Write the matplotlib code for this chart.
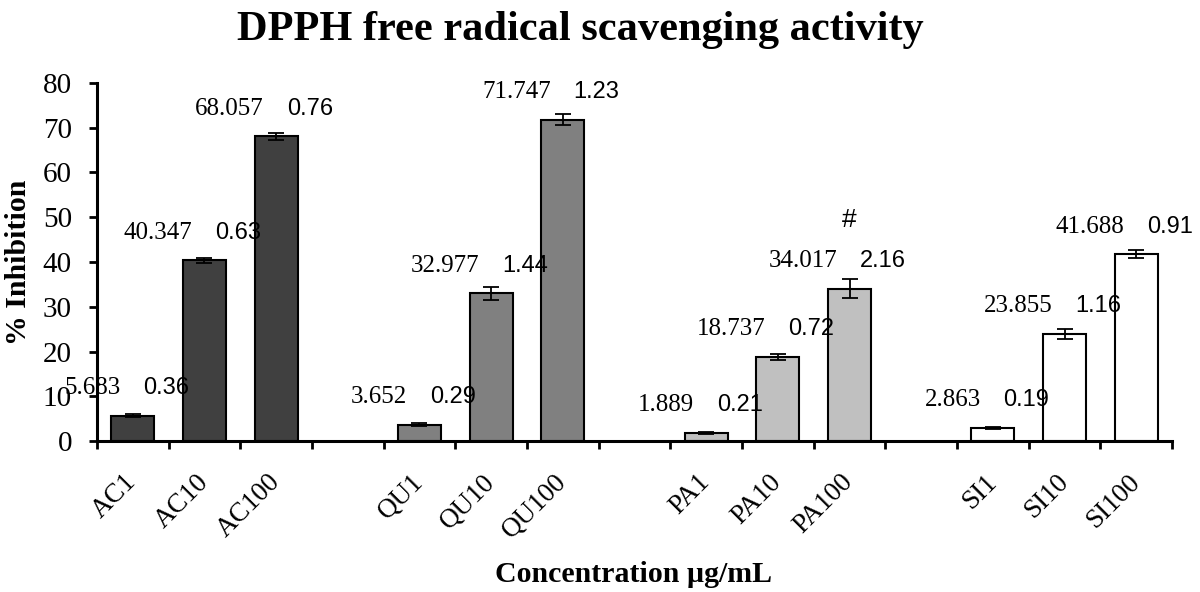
import numpy as np
import matplotlib
matplotlib.use("Agg")
import matplotlib.pyplot as plt

# data
groups = ["AC", "QU", "PA", "SI"]
doses = ["1", "10", "100"]
ac_mean = [5.683, 40.347, 68.057]
ac_sd = [0.36, 0.63, 0.76]
qu_mean = [3.652, 32.977, 71.747]
qu_sd = [0.29, 1.44, 1.23]
pa_mean = [1.889, 18.737, 34.017]
pa_sd = [0.21, 0.72, 2.16]
si_mean = [2.863, 23.855, 41.688]
si_sd = [0.19, 1.16, 0.91]
colors = ["#404040", "#808080", "#c0c0c0", "#ffffff"]
marked = "PA100"  # bar flagged with '#'

means = [ac_mean, qu_mean, pa_mean, si_mean]
sds = [ac_sd, qu_sd, pa_sd, si_sd]

serif = "Liberation Serif"
sans = "Liberation Sans"

fig = plt.figure(figsize=(12, 5.92), dpi=100)
ax = fig.add_axes([0.0808, 0.255, 0.8959, 0.605])

pos_all, names_all = [], []
for g, name in enumerate(groups):
    pos = np.arange(3) + g * 4
    ax.bar(pos, means[g], width=0.6, color=colors[g], edgecolor="black",
           linewidth=1.5, zorder=2)
    ax.errorbar(pos, means[g], yerr=sds[g], fmt="none", ecolor="black",
                elinewidth=1.3, capsize=5.5, capthick=1.3, zorder=3)
    for k in range(3):
        m, s = means[g][k], sds[g][k]
        ax.text(pos[k] - 0.17, m + 6.2, "%.3f" % m, ha="right", va="center",
                fontfamily=serif, fontsize=18)
        ax.text(pos[k] + 0.15, m + 6.2, "%.2f" % s, ha="left", va="center",
                fontfamily=sans, fontsize=17)
        lab = name + doses[k]
        if lab == marked:
            ax.text(pos[k], m + 15.4, "#", ha="center", va="center",
                    fontfamily=sans, fontsize=19)
        pos_all.append(pos[k])
        names_all.append(lab)

ax.set_xlim(-0.5, 14.5)
ax.set_ylim(0, 80)
ax.set_yticks(np.arange(0, 81, 10))
ax.set_xticks(np.arange(-0.5, 15, 1))
ax.set_xticklabels([])
ax.set_xticks(pos_all, minor=True)
ax.set_xticklabels(names_all, minor=True, rotation=45, ha="right", va="center",
                   rotation_mode="anchor", fontfamily=serif, fontsize=19.5)
ax.tick_params(axis="x", which="minor", length=0, pad=27)
ax.tick_params(axis="both", which="major", length=6, width=2, direction="out")
ax.tick_params(axis="y", labelsize=21, pad=12)
for t in ax.get_yticklabels():
    t.set_fontfamily(serif)

for side in ["top", "right"]:
    ax.spines[side].set_visible(False)
for side in ["left", "bottom"]:
    ax.spines[side].set_linewidth(2.2)

ax.set_ylabel("% Inhibition", fontfamily=serif, fontweight="bold",
              fontsize=21.5, labelpad=8)
fig.text(0.528, 0.03, "Concentration \u00b5g/mL", ha="center", va="center",
         fontfamily=serif, fontweight="bold", fontsize=21.5)
fig.text(0.484, 0.95, "DPPH free radical scavenging activity", ha="center",
         va="center", fontfamily=serif, fontweight="bold", fontsize=30.5)

fig.savefig("out.png", dpi=100)
